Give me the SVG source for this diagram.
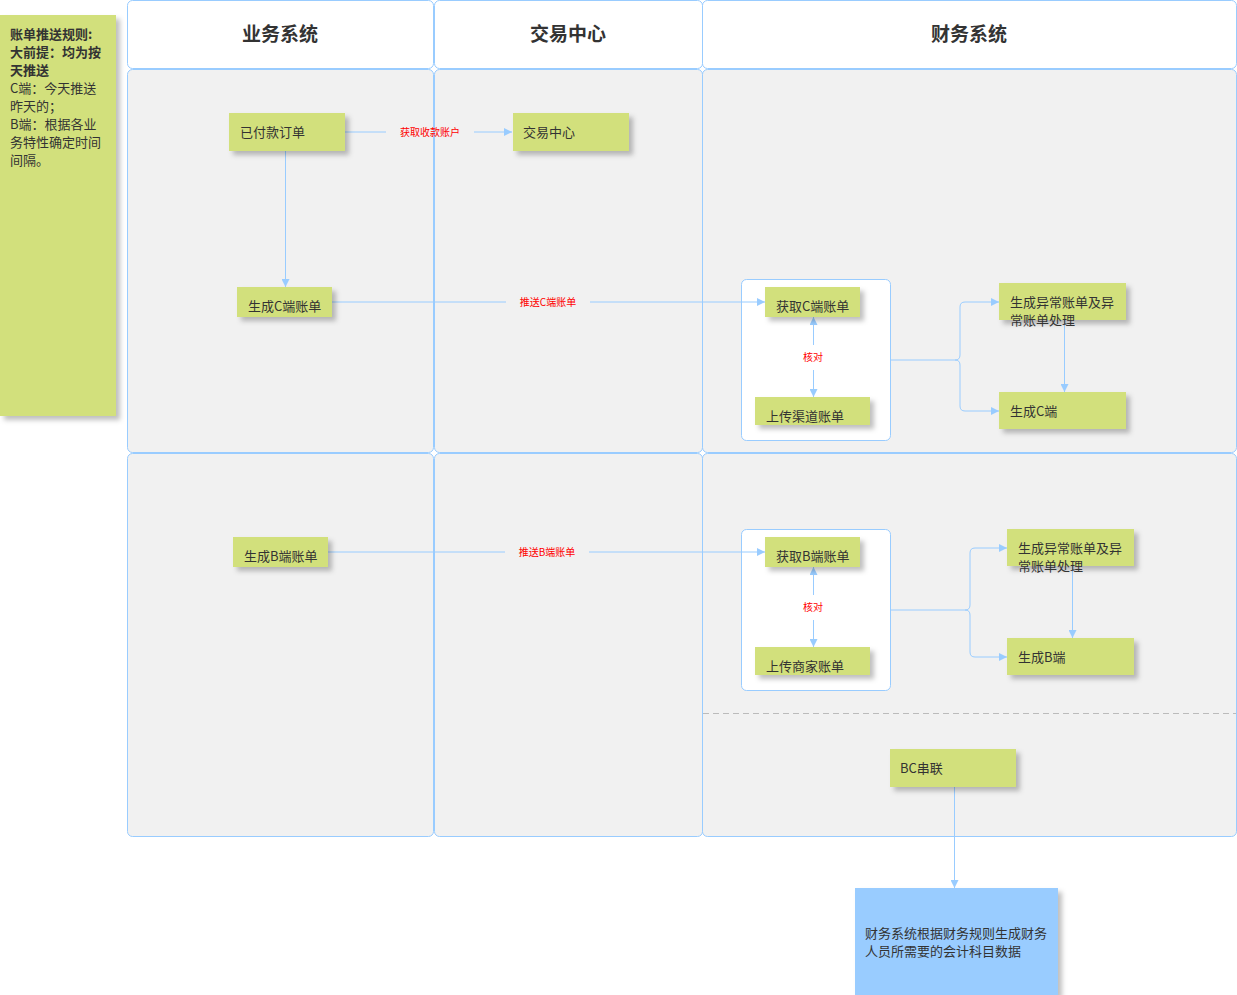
<svg xmlns="http://www.w3.org/2000/svg" width="1237" height="995" viewBox="0 0 1237 995">
<style>
text{font-family:"Noto Sans CJK SC","Liberation Sans",sans-serif;}
.lane{fill:#f1f1f1;stroke:#99ccff;stroke-width:1}
.hdr{fill:#fff;stroke:#99ccff;stroke-width:1}
.ht{font-size:19px;font-weight:bold;fill:#333;text-anchor:middle}
.n{fill:#d2e07c;filter:url(#sh)}
.t{font-size:13px;fill:#333}
.lb{font-size:10px;fill:#ff0000;text-anchor:middle}
.c{fill:none;stroke:#99ccff;stroke-width:1}
.box{fill:#fff;stroke:#99ccff;stroke-width:1}
</style>
<defs>
<filter id="sh" x="-10%" y="-10%" width="130%" height="140%"><feDropShadow dx="4" dy="4" stdDeviation="2.5" flood-color="#000" flood-opacity="0.25"/></filter>
<marker id="a" viewBox="0 0 10 10" refX="10" refY="5" markerWidth="8" markerHeight="8" orient="auto-start-reverse" markerUnits="userSpaceOnUse"><path d="M0,0L10,5L0,10z" fill="#99ccff"/></marker>
</defs>
<g id="lanes">
<rect class="hdr" x="127.5" y="0.5" width="306" height="68" rx="5"/>
<rect class="hdr" x="434.5" y="0.5" width="268" height="68" rx="5"/>
<rect class="hdr" x="702.5" y="0.5" width="534" height="68" rx="5"/>
<text class="ht" x="280" y="41">业务系统</text>
<text class="ht" x="568" y="41">交易中心</text>
<text class="ht" x="969" y="41">财务系统</text>
<rect class="lane" x="127.5" y="69.5" width="306" height="383" rx="5"/>
<rect class="lane" x="434.5" y="69.5" width="268" height="383" rx="5"/>
<rect class="lane" x="702.5" y="69.5" width="534" height="383" rx="5"/>
<rect class="lane" x="127.5" y="453.5" width="306" height="383" rx="5"/>
<rect class="lane" x="434.5" y="453.5" width="268" height="383" rx="5"/>
<rect class="lane" x="702.5" y="453.5" width="534" height="383" rx="5"/>
<line x1="703" y1="713.5" x2="1236" y2="713.5" stroke="#bbb" stroke-dasharray="6,4"/>
</g>
<g id="note"><rect x="0" y="15" width="116" height="401" fill="#d2e07c" filter="url(#sh)"/>
<text class="t" font-size="12"><tspan x="10" y="39" font-weight="bold">账单推送规则:</tspan><tspan x="10" y="57" font-weight="bold">大前提：均为按</tspan><tspan x="10" y="75" font-weight="bold">天推送</tspan><tspan x="10" y="93">C端：今天推送</tspan><tspan x="10" y="111">昨天的；</tspan><tspan x="10" y="129">B端：根据各业</tspan><tspan x="10" y="147">务特性确定时间</tspan><tspan x="10" y="165">间隔。</tspan></text></g>
<g id="containers">
<rect class="box" x="741.5" y="279.5" width="149" height="161" rx="5"/>
<rect class="box" x="741.5" y="529.5" width="149" height="161" rx="5"/>
</g>
<g id="connectors">
<path class="c" d="M345,132H386M474,132H512" marker-end="url(#a)"/>
<text class="lb" x="430" y="136">获取收款账户</text>
<path class="c" d="M285.5,151V287" marker-end="url(#a)"/>
<path class="c" d="M332,302H506M590,302H765" marker-end="url(#a)"/>
<text class="lb" x="548" y="306">推送C端账单</text>
<path class="c" d="M813.5,345V317" marker-end="url(#a)"/>
<path class="c" d="M813.5,370V397" marker-end="url(#a)"/>
<text class="lb" x="813" y="361">核对</text>
<path class="c" d="M890,360H955Q960,360 960,355V307Q960,302 965,302H999" marker-end="url(#a)"/>
<path class="c" d="M955,360Q960,360 960,365V406Q960,411 965,411H999" marker-end="url(#a)"/>
<path class="c" d="M1064.5,320V392" marker-end="url(#a)"/>
<path class="c" d="M328,552H505M589,552H765" marker-end="url(#a)"/>
<text class="lb" x="547" y="556">推送B端账单</text>
<path class="c" d="M813.5,595V567" marker-end="url(#a)"/>
<path class="c" d="M813.5,620V647" marker-end="url(#a)"/>
<text class="lb" x="813" y="611">核对</text>
<path class="c" d="M890,610H965Q970,610 970,605V553Q970,548 975,548H1007" marker-end="url(#a)"/>
<path class="c" d="M965,610Q970,610 970,615V652Q970,657 975,657H1007" marker-end="url(#a)"/>
<path class="c" d="M1072.5,566V638" marker-end="url(#a)"/>
<path class="c" d="M954.5,787V888" marker-end="url(#a)"/>
</g>
<g id="n1"><rect class="n" x="229" y="113" width="116" height="38"/><text class="t" x="240" y="137">已付款订单</text></g>
<g id="n2"><rect class="n" x="513" y="113" width="116" height="38"/><text class="t" x="523" y="137">交易中心</text></g>
<g id="n3"><rect class="n" x="237" y="287" width="95" height="30"/><text class="t" x="248" y="311">生成C端账单</text></g>
<g id="n4"><rect class="n" x="765" y="287" width="95" height="30"/><text class="t" x="776" y="311">获取C端账单</text></g>
<g id="n5"><rect class="n" x="755" y="397" width="115" height="28"/><text class="t" x="766" y="421">上传渠道账单</text></g>
<g id="n6"><rect class="n" x="999" y="283" width="127" height="37"/><text class="t"><tspan x="1010" y="307">生成异常账单及异</tspan><tspan x="1010" y="325">常账单处理</tspan></text></g>
<g id="n7"><rect class="n" x="999" y="392" width="127" height="37"/><text class="t" x="1010" y="416">生成C端</text></g>
<g id="n8"><rect class="n" x="233" y="537" width="95" height="30"/><text class="t" x="244" y="561">生成B端账单</text></g>
<g id="n9"><rect class="n" x="765" y="537" width="95" height="30"/><text class="t" x="776" y="561">获取B端账单</text></g>
<g id="n10"><rect class="n" x="755" y="647" width="115" height="28"/><text class="t" x="766" y="671">上传商家账单</text></g>
<g id="n11"><rect class="n" x="1007" y="529" width="127" height="37"/><text class="t"><tspan x="1018" y="553">生成异常账单及异</tspan><tspan x="1018" y="571">常账单处理</tspan></text></g>
<g id="n12"><rect class="n" x="1007" y="638" width="127" height="37"/><text class="t" x="1018" y="662">生成B端</text></g>
<g id="n13"><rect class="n" x="890" y="749" width="126" height="38"/><text class="t" x="900" y="773">BC串联</text></g>
<g id="n14"><rect x="855" y="888" width="203" height="107" fill="#99ccff" filter="url(#sh)"/><text class="t"><tspan x="865" y="938">财务系统根据财务规则生成财务</tspan><tspan x="865" y="956">人员所需要的会计科目数据</tspan></text></g>
</svg>
